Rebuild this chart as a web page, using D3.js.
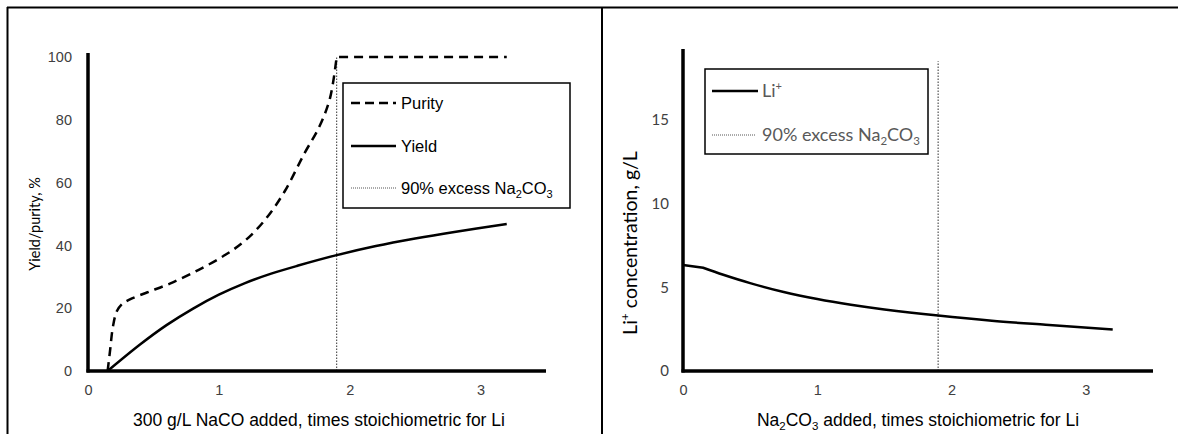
<!DOCTYPE html>
<html>
<head>
<meta charset="utf-8">
<script src="https://cdn.jsdelivr.net/npm/d3@7"></script>
<style>
  html, body { margin: 0; padding: 0; background: #fff; }
  svg { display: block; }
  .arial { font-family: "Liberation Sans", Arial, sans-serif; }
  .cal { font-family: Lato, "Open Sans", sans-serif; }
</style>
</head>
<body>
<svg id="chart" width="1178" height="434"></svg>
<script>
// Left panel: yield and purity of Li2CO3 vs. carbonate dose
const ratioYield = [0.15, 0.40, 0.60, 0.80, 1.00, 1.20, 1.40, 1.60, 1.90, 2.20, 2.50, 2.80, 3.20];
const yieldPct   = [0, 8.5, 14.6, 19.8, 24.3, 28.0, 31.0, 33.5, 36.9, 39.8, 42.2, 44.3, 46.8];

const ratioPurity = [0.15, 0.17, 0.19, 0.22, 0.26, 0.32, 0.45, 0.63, 0.85, 1.05, 1.20, 1.35, 1.50, 1.65, 1.77, 1.85, 1.90, 2.50, 3.20];
const purityPct   = [0, 7, 14, 19, 21.3, 22.8, 25.0, 27.9, 32.3, 37.0, 41.5, 48.0, 57.0, 69.0, 78.0, 87.0, 100, 100, 100];

// Right panel: Li+ left in solution
const ratioLi = [0, 0.15, 0.30, 0.50, 0.75, 1.00, 1.25, 1.50, 1.90, 2.30, 2.70, 3.20];
const liConc  = [6.34, 6.17, 5.75, 5.25, 4.72, 4.30, 3.96, 3.68, 3.31, 3.00, 2.76, 2.48];

// 90 % excess marker
const excessRatio = 1.9;
const excessTopLeft = 100;
const excessTopRight = 18.5;

const xTicks = [0, 1, 2, 3];
const yTicksLeft = [0, 20, 40, 60, 80, 100];
const yTicksRight = [0, 5, 10, 15];

const svg = d3.select("#chart");

// panel frames
const frame = svg.append("g").attr("stroke", "#000").attr("fill", "none");
frame.append("line").attr("x1", 7).attr("x2", 1178).attr("y1", 7.5).attr("y2", 7.5).attr("stroke-width", 2);
frame.append("line").attr("x1", 7.5).attr("x2", 7.5).attr("y1", 7).attr("y2", 434).attr("stroke-width", 2);
frame.append("line").attr("x1", 602).attr("x2", 602).attr("y1", 7).attr("y2", 434).attr("stroke-width", 2);

function toPts(xs, ys) { return xs.map((d, i) => [d, ys[i]]); }

// joins a smoothed run and a straight run that share one point
function joinPaths(first, second) { return first + second.replace(/^M[^LC]*/, ""); }

function drawAxes(g, x, y, yTicks, yTickStyle, xTickStyle) {
  const [x0, x1] = x.range();
  const [y0, y1] = y.range();
  const xAxis = d3.axisBottom(x).tickValues(xTicks).tickSize(0).tickPadding(14).tickFormat(d3.format("d"));
  const yAxis = d3.axisLeft(y).tickValues(yTicks).tickSize(0).tickPadding(yTickStyle.pad).tickFormat(d3.format("d"));
  const gx = g.append("g").attr("transform", `translate(0,${y0})`).call(xAxis);
  gx.select(".domain").remove();
  gx.selectAll("text").attr("class", xTickStyle.cls).attr("font-size", xTickStyle.size).attr("fill", "#404040");
  const gy = g.append("g").attr("transform", `translate(${x0},0)`).call(yAxis);
  gy.select(".domain").remove();
  gy.selectAll("text").attr("class", yTickStyle.cls).attr("font-size", yTickStyle.size).attr("fill", "#404040");
  g.append("line").attr("x1", x0).attr("x2", x0).attr("y1", y0 + 1.5).attr("y2", y1 - 4)
    .attr("stroke", "#000").attr("stroke-width", 3.5);
  g.append("line").attr("x1", x0 - 1.5).attr("x2", x1).attr("y1", y0).attr("y2", y0)
    .attr("stroke", "#000").attr("stroke-width", 3.5);
}

// ---------- left panel ----------
{
  const g = svg.append("g");
  const x = d3.scaleLinear().domain([0, 3.5]).range([88, 546]);
  const y = d3.scaleLinear().domain([0, 100]).range([371, 57]);

  g.append("line")
    .attr("x1", x(excessRatio)).attr("x2", x(excessRatio))
    .attr("y1", y(0)).attr("y2", y(excessTopLeft))
    .attr("stroke", "#555").attr("stroke-width", 1.2).attr("stroke-dasharray", "1.5,1.5");

  drawAxes(g, x, y, yTicksLeft, { cls: "arial", size: 14.5, pad: 16 }, { cls: "arial", size: 14.5 });

  const smooth = d3.line().x(d => x(d[0])).y(d => y(d[1])).curve(d3.curveCatmullRom.alpha(0.5));
  const straight = d3.line().x(d => x(d[0])).y(d => y(d[1]));
  g.append("path").datum(toPts(ratioYield, yieldPct))
    .attr("d", smooth).attr("fill", "none").attr("stroke", "#000").attr("stroke-width", 2.5);

  // purity: smooth rise up to the first 100 % point, straight plateau after it
  const pts = toPts(ratioPurity, purityPct);
  const iTop = purityPct.indexOf(100);
  g.append("path").attr("d", joinPaths(smooth(pts.slice(0, iTop + 1)), straight(pts.slice(iTop))))
    .attr("fill", "none").attr("stroke", "#000").attr("stroke-width", 2.5)
    .attr("stroke-dasharray", "9,6");

  // legend
  const lg = g.append("g");
  lg.append("rect").attr("x", 343).attr("y", 83).attr("width", 227).attr("height", 125)
    .attr("fill", "#fff").attr("stroke", "#000").attr("stroke-width", 1.5);
  const items = [
    { y: 103, dash: "9,5", w: 2.5, color: "#000", label: "Purity" },
    { y: 146, dash: null, w: 2.5, color: "#000", label: "Yield" },
    { y: 188, dash: "1,1", w: 1, color: "#555", label: "90% excess" }
  ];
  items.forEach(it => {
    const l = lg.append("line").attr("x1", 351).attr("x2", 396).attr("y1", it.y).attr("y2", it.y)
      .attr("stroke", it.color).attr("stroke-width", it.w);
    if (it.dash) l.attr("stroke-dasharray", it.dash);
    const t = lg.append("text").attr("class", "arial").attr("x", 401).attr("y", it.y)
      .attr("dy", "0.36em").attr("font-size", 16.5).attr("fill", "#000");
    t.append("tspan").text(it.label);
    if (it.label === "90% excess") {
      t.append("tspan").text(" Na");
      t.append("tspan").attr("font-size", 11).attr("dy", 4).text("2");
      t.append("tspan").attr("dy", -4).text("CO");
      t.append("tspan").attr("font-size", 11).attr("dy", 4).text("3");
    }
  });

  // titles
  g.append("text").attr("class", "arial").attr("x", 319).attr("y", 426)
    .attr("text-anchor", "middle").attr("font-size", 17.5).attr("fill", "#000")
    .text("300 g/L NaCO added, times stoichiometric for Li");
  g.append("text").attr("class", "cal")
    .attr("transform", "translate(40,224) rotate(-90)")
    .attr("text-anchor", "middle").attr("font-size", 14.5).attr("fill", "#000")
    .text("Yield/purity, %");
}

// ---------- right panel ----------
{
  const g = svg.append("g");
  const x = d3.scaleLinear().domain([0, 3.5]).range([683, 1153]);
  const y = d3.scaleLinear().domain([0, 19]).range([371, 53]);

  g.append("line")
    .attr("x1", x(excessRatio)).attr("x2", x(excessRatio))
    .attr("y1", y(0)).attr("y2", y(excessTopRight))
    .attr("stroke", "#555").attr("stroke-width", 1.2).attr("stroke-dasharray", "1.5,1.5");

  drawAxes(g, x, y, yTicksRight, { cls: "cal", size: 15, pad: 14 }, { cls: "arial", size: 14.5 });

  // Li+: straight first step before precipitation starts, smooth decline after it
  const smooth = d3.line().x(d => x(d[0])).y(d => y(d[1])).curve(d3.curveCatmullRom.alpha(0.5));
  const straight = d3.line().x(d => x(d[0])).y(d => y(d[1]));
  const pts = toPts(ratioLi, liConc);
  g.append("path").attr("d", joinPaths(straight(pts.slice(0, 2)), smooth(pts.slice(1))))
    .attr("fill", "none").attr("stroke", "#000").attr("stroke-width", 2.5);

  // legend
  const lg = g.append("g");
  lg.append("rect").attr("x", 705).attr("y", 69).attr("width", 223).attr("height", 85)
    .attr("fill", "#fff").attr("stroke", "#000").attr("stroke-width", 1.5);
  lg.append("line").attr("x1", 712).attr("x2", 758).attr("y1", 91).attr("y2", 91)
    .attr("stroke", "#000").attr("stroke-width", 2.5);
  const t1 = lg.append("text").attr("class", "cal").attr("x", 762).attr("y", 91).attr("dy", "0.36em")
    .attr("font-size", 18).attr("fill", "#595959");
  t1.append("tspan").text("Li");
  t1.append("tspan").attr("font-size", 11).attr("dy", -7).text("+");
  lg.append("line").attr("x1", 712).attr("x2", 756).attr("y1", 135).attr("y2", 135)
    .attr("stroke", "#555").attr("stroke-width", 1).attr("stroke-dasharray", "1,1");
  const t2 = lg.append("text").attr("class", "cal").attr("x", 762).attr("y", 135).attr("dy", "0.36em")
    .attr("font-size", 18).attr("fill", "#595959");
  t2.append("tspan").text("90% excess Na");
  t2.append("tspan").attr("font-size", 11.5).attr("dy", 4).text("2");
  t2.append("tspan").attr("dy", -4).text("CO");
  t2.append("tspan").attr("font-size", 11.5).attr("dy", 4).text("3");

  // titles
  const xt = g.append("text").attr("class", "arial").attr("x", 918).attr("y", 426)
    .attr("text-anchor", "middle").attr("font-size", 17.5).attr("fill", "#000");
  xt.append("tspan").text("Na");
  xt.append("tspan").attr("font-size", 11.5).attr("dy", 4).text("2");
  xt.append("tspan").attr("dy", -4).text("CO");
  xt.append("tspan").attr("font-size", 11.5).attr("dy", 4).text("3");
  xt.append("tspan").attr("dy", -4).text(" added, times stoichiometric for Li");

  const yt = g.append("text").attr("class", "cal")
    .attr("transform", "translate(637,243) rotate(-90)")
    .attr("text-anchor", "middle").attr("font-size", 19.5).attr("fill", "#000");
  yt.append("tspan").text("Li");
  yt.append("tspan").attr("font-size", 12).attr("dy", -8).text("+");
  yt.append("tspan").attr("dy", 8).text(" concentration, g/L");
}
</script>
</body>
</html>
